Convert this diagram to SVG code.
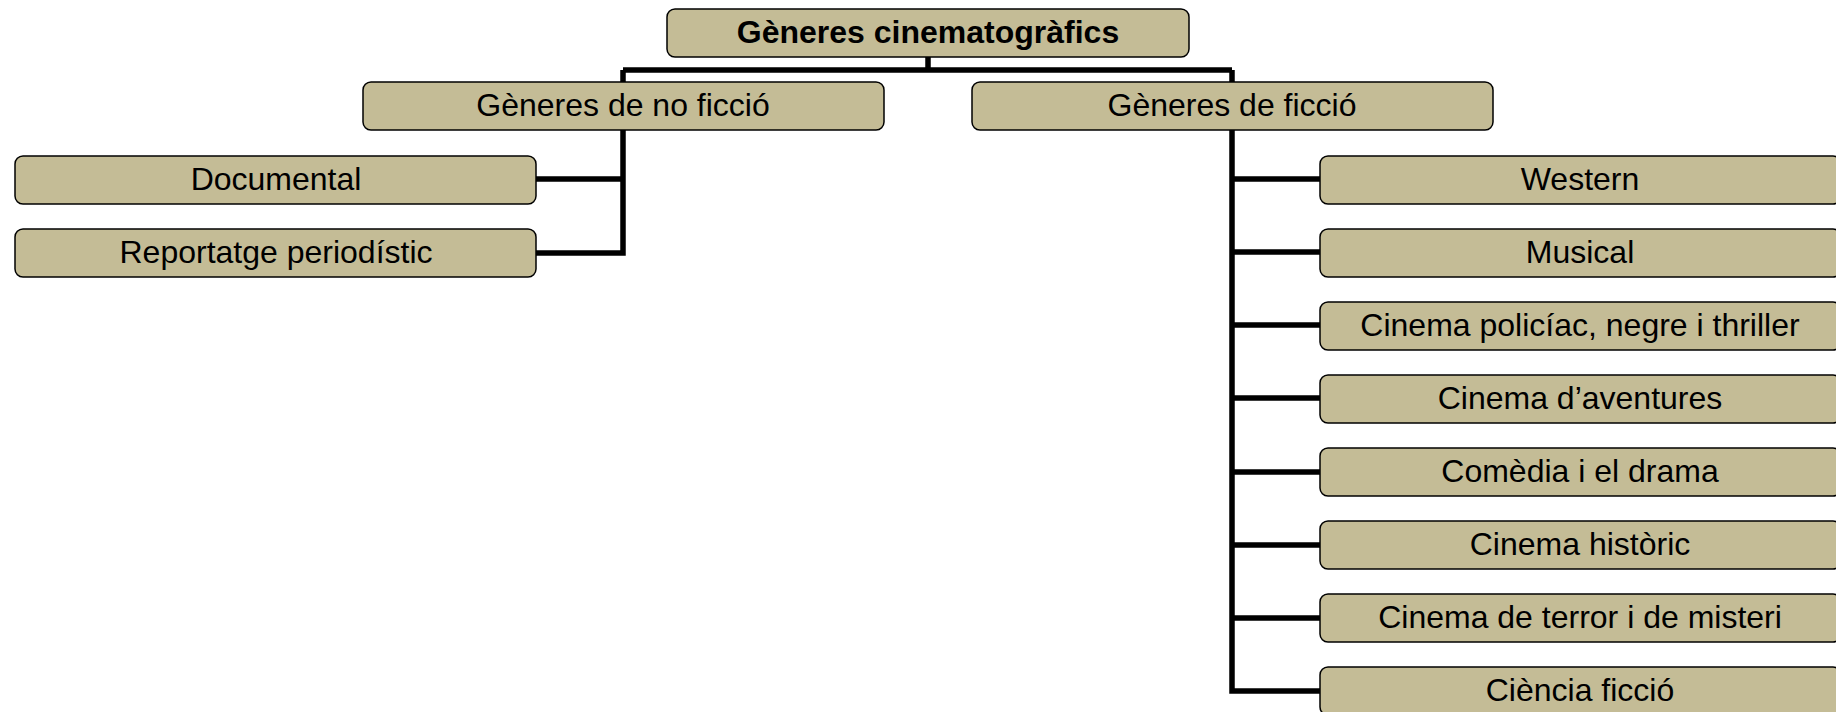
<svg xmlns="http://www.w3.org/2000/svg" width="1836" height="712" viewBox="0 0 1836 712">
<style>
.box{fill:#C4BC96;stroke:#000;stroke-width:1.5}
.t{font-family:"Liberation Sans",Arial,sans-serif;font-size:32px;fill:#000;text-anchor:middle}
.b{font-weight:bold}
.c{fill:none;stroke:#000;stroke-width:5.5;stroke-linecap:butt;stroke-linejoin:miter}
</style>
<rect width="1836" height="712" fill="#fff"/>
<g id="connectors">
<path class="c" d="M928,57 V70 M623,70 H1232 M623,70 V82 M1232,70 V82"/>
<path class="c" d="M623,130 V253 H536 M536,179 H623"/>
<path class="c" d="M1232,130 V691 H1320 M1232,179 H1320 M1232,252 H1320 M1232,325 H1320 M1232,398 H1320 M1232,472 H1320 M1232,545 H1320 M1232,618 H1320"/>
</g>
<g id="root"><rect class="box" x="667" y="9" width="522" height="48" rx="8"/><text class="t b" x="928" y="43">Gèneres cinematogràfics</text></g>
<g id="noficcio"><rect class="box" x="363" y="82" width="521" height="48" rx="8"/><text class="t" x="623" y="116">Gèneres de no ficció</text></g>
<g id="ficcio"><rect class="box" x="972" y="82" width="521" height="48" rx="8"/><text class="t" x="1232" y="116">Gèneres de ficció</text></g>
<g id="documental"><rect class="box" x="15" y="156" width="521" height="48" rx="8"/><text class="t" x="276" y="190">Documental</text></g>
<g id="reportatge"><rect class="box" x="15" y="229" width="521" height="48" rx="8"/><text class="t" x="276" y="263">Reportatge periodístic</text></g>
<g id="western"><rect class="box" x="1320" y="156" width="521" height="48" rx="8"/><text class="t" x="1580" y="190">Western</text></g>
<g id="musical"><rect class="box" x="1320" y="229" width="521" height="48" rx="8"/><text class="t" x="1580" y="263">Musical</text></g>
<g id="policiac"><rect class="box" x="1320" y="302" width="521" height="48" rx="8"/><text class="t" x="1580" y="336">Cinema policíac, negre i thriller</text></g>
<g id="aventures"><rect class="box" x="1320" y="375" width="521" height="48" rx="8"/><text class="t" x="1580" y="409">Cinema d’aventures</text></g>
<g id="comedia"><rect class="box" x="1320" y="448" width="521" height="48" rx="8"/><text class="t" x="1580" y="482">Comèdia i el drama</text></g>
<g id="historic"><rect class="box" x="1320" y="521" width="521" height="48" rx="8"/><text class="t" x="1580" y="555">Cinema històric</text></g>
<g id="terror"><rect class="box" x="1320" y="594" width="521" height="48" rx="8"/><text class="t" x="1580" y="628">Cinema de terror i de misteri</text></g>
<g id="ciencia"><rect class="box" x="1320" y="667" width="521" height="48" rx="8"/><text class="t" x="1580" y="701">Ciència ficció</text></g>
</svg>
